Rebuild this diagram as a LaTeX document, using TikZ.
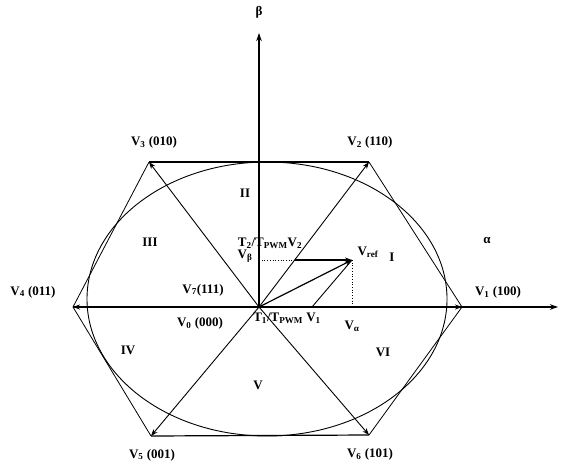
\documentclass[tikz,border=0pt]{standalone}
\usepackage{fontspec}
\setmainfont{Liberation Serif}
\usetikzlibrary{arrows.meta}
\newcommand\sbs[1]{\textsubscript{#1}}
\begin{document}
\begin{tikzpicture}[x=1pt,y=-1pt,
  lbl/.style={font=\bfseries\fontsize{13}{15}\selectfont, inner sep=0pt},
  vec/.style={-{Stealth[length=7pt,width=5pt]}, line width=0.9pt},
  axis/.style={-{Stealth[length=8pt,width=5.5pt]}, line width=1.2pt},
  hex/.style={line width=0.8pt},
  dots/.style={dotted, line width=0.7pt}]
\useasboundingbox (0,0) rectangle (569,462);
% points
\coordinate (O) at (259,307);
\coordinate (A1) at (462,307);
\coordinate (A2) at (369,162);
\coordinate (A3) at (149,162);
\coordinate (A4) at (73,307);
\coordinate (A5) at (151,436);
\coordinate (A6) at (369,435);
\coordinate (XE) at (558,307);
\coordinate (YE) at (259,33);
\coordinate (R) at (352,260);
\coordinate (B) at (259,260);
\coordinate (P2) at (295,260);
\coordinate (P1) at (312,307);
\coordinate (RA) at (352,307);
\coordinate (EC) at (267,299);
% ellipse
\draw[line width=0.9pt] (EC) ellipse [x radius=180pt, y radius=137pt];
% hexagon
\draw[hex] (A1) -- (A2) (A3) -- (A4) -- (A5) (A6) -- (A1);
\draw[line width=1.2pt] (A2) -- (A3);
\draw[line width=1.2pt] (A5) -- (A6);
% axes
\draw[axis] (A4) -- (XE);
\draw[axis] (O) -- (YE);
% basic vectors
\foreach \v in {A1,A2,A3,A4,A5,A6} \draw[vec] (O) -- (\v);
% reference construction
\draw[dots] (B) -- (P2);
\draw[dots] (R) -- (RA);
\draw[vec, line width=1.2pt] (P2) -- (R);
\draw[line width=0.9pt] (P1) -- (R);
\draw[vec, line width=1.2pt] (O) -- (R);
% labels
\node[lbl] (lb) at (259,12) {β};
\node[lbl] (la) at (487,240) {α};
\node[lbl] (l1) at (498,292) {V\sbs{1} (100)};
\node[lbl] (l2) at (370,142) {V\sbs{2} (110)};
\node[lbl] (l3) at (154,142) {V\sbs{3} (010)};
\node[lbl] (l4) at (33,292) {V\sbs{4} (011)};
\node[lbl] (l5) at (152,455) {V\sbs{5} (001)};
\node[lbl] (l6) at (370,454) {V\sbs{6} (101)};
\node[lbl] (l7) at (203,290) {V\sbs{7}(111)};
\node[lbl] (l0) at (200,323) {V\sbs{0} (000)};
\node[lbl] (sI) at (392,257) {I};
\node[lbl] (sII) at (245,193) {II};
\node[lbl] (sIII) at (150,242) {III};
\node[lbl] (sIV) at (128,350) {IV};
\node[lbl] (sV) at (258,385) {V};
\node[lbl] (sVI) at (383,352) {VI};
\node[lbl] (lr) at (368,252) {V\sbs{ref}};
\node[lbl] (lvb) at (245,256) {V\sbs{β}};
\node[lbl] (lva) at (352,326) {V\sbs{α}};
\node[lbl] (lt2) at (270,243) {T\sbs{2}/T\sbs{PWM}V\sbs{2}};
\node[lbl] (lt1) at (287,318) {T\sbs{1}/T\sbs{PWM} V\sbs{1}};
\end{tikzpicture}
\end{document}
